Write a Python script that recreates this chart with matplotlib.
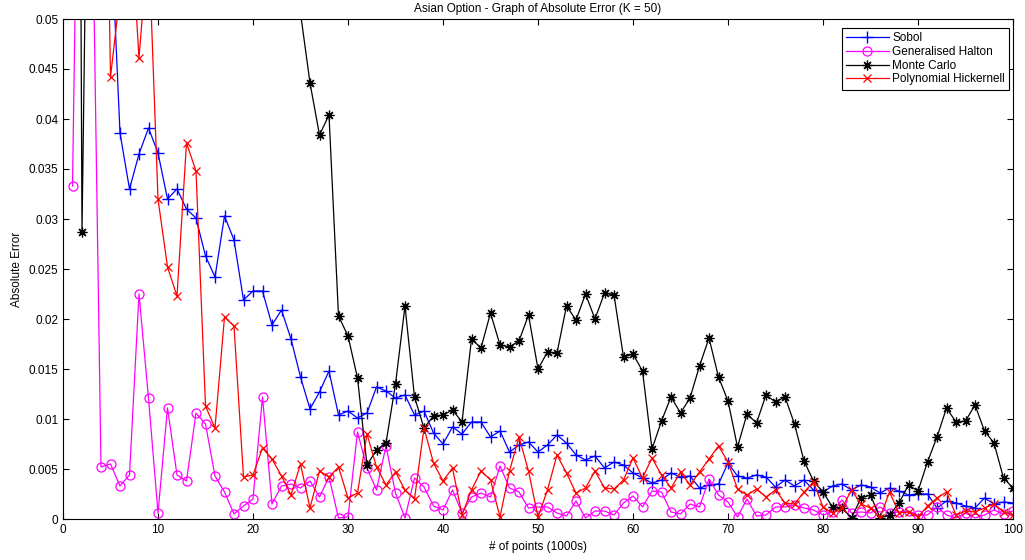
import matplotlib
matplotlib.use("Agg")
import matplotlib.pyplot as plt
from matplotlib.ticker import FormatStrFormatter, MultipleLocator

plt.rcParams['font.family'] = ['Liberation Sans', 'DejaVu Sans']
plt.rcParams['font.size'] = 8.5

n_points = list(range(1, 101))

# values above 0.05 run off the top of the axes
sobol = [0.14, 0.11, 0.09, 0.07, 0.060, 0.0386, 0.0330, 0.0365, 0.0391, 0.0366,
         0.0320, 0.0330, 0.0310, 0.0301, 0.0263, 0.0242, 0.0303, 0.0279, 0.0219, 0.0228,
         0.0228, 0.0194, 0.0209, 0.0180, 0.0142, 0.0110, 0.0127, 0.0148, 0.0104, 0.0108,
         0.0101, 0.0106, 0.0132, 0.0128, 0.0121, 0.0124, 0.0104, 0.0108, 0.0086, 0.0075,
         0.0092, 0.0085, 0.0097, 0.0097, 0.0082, 0.0088, 0.0067, 0.0074, 0.0077, 0.0067,
         0.0074, 0.0084, 0.0076, 0.0064, 0.0059, 0.0063, 0.0051, 0.0057, 0.0054, 0.0046,
         0.0041, 0.0036, 0.0039, 0.0046, 0.0042, 0.0043, 0.0031, 0.0034, 0.0035, 0.0056,
         0.0043, 0.0041, 0.0044, 0.0042, 0.0032, 0.0039, 0.0033, 0.0039, 0.0029, 0.0027,
         0.0033, 0.0035, 0.0029, 0.0034, 0.0032, 0.0026, 0.0031, 0.0028, 0.0024, 0.0025,
         0.0025, 0.0011, 0.0018, 0.0016, 0.0013, 0.0011, 0.0021, 0.0015, 0.0017, 0.0016]

halton = [0.0333, 0.098, 0.068, 0.0052, 0.0055, 0.0033, 0.0044, 0.0225, 0.0121, 0.0006,
          0.0111, 0.0044, 0.0038, 0.0106, 0.0095, 0.0043, 0.0027, 0.0005, 0.0013, 0.0020,
          0.0122, 0.0015, 0.0033, 0.0035, 0.0031, 0.0038, 0.0022, 0.0042, 0.0001, 0.0002,
          0.0087, 0.0051, 0.0029, 0.0073, 0.0026, 0.0001, 0.0041, 0.0032, 0.0013, 0.0009,
          0.0029, 0.0006, 0.0022, 0.0026, 0.0022, 0.0053, 0.0031, 0.0027, 0.0011, 0.0012,
          0.0012, 0.0006, 0.0003, 0.0018, 0.0001, 0.0008, 0.0008, 0.0004, 0.0016, 0.0023,
          0.0012, 0.0028, 0.0027, 0.0007, 0.0005, 0.0015, 0.0012, 0.0040, 0.0024, 0.0017,
          0.0002, 0.0020, 0.0003, 0.0004, 0.0012, 0.0012, 0.0014, 0.0011, 0.0009, 0.0004,
          0.0007, 0.0019, 0.0006, 0.0007, 0.0006, 0.0012, 0.0006, 0.0007, 0.0008, 0.0004,
          0.0004, 0.0012, 0.0004, 0.0001, 0.0006, 0.0001, 0.0004, 0.0009, 0.0005, 0.0008]

monte_carlo = [0.24, 0.0287, 0.10, 0.12, 0.11, 0.10, 0.09, 0.095, 0.085, 0.08,
               0.085, 0.075, 0.08, 0.07, 0.075, 0.068, 0.07, 0.065, 0.067, 0.062,
               0.064, 0.06, 0.058, 0.055, 0.0506, 0.0436, 0.0384, 0.0404, 0.0203, 0.0183,
               0.0141, 0.0054, 0.0069, 0.0076, 0.0135, 0.0213, 0.0122, 0.0091, 0.0103, 0.0104,
               0.0109, 0.0097, 0.0180, 0.0171, 0.0206, 0.0174, 0.0172, 0.0178, 0.0204, 0.0150,
               0.0167, 0.0166, 0.0213, 0.0199, 0.0225, 0.0200, 0.0226, 0.0224, 0.0162, 0.0165,
               0.0148, 0.0070, 0.0098, 0.0122, 0.0106, 0.0121, 0.0153, 0.0181, 0.0142, 0.0118,
               0.0072, 0.0105, 0.0096, 0.0124, 0.0117, 0.0122, 0.0095, 0.0058, 0.0038, 0.0027,
               0.0012, 0.0011, 0.0001, 0.0021, 0.0024, 0.0001, 0.0004, 0.0016, 0.0034, 0.0028,
               0.0057, 0.0082, 0.0111, 0.0097, 0.0098, 0.0114, 0.0088, 0.0076, 0.0041, 0.0031]

hickernell = [0.16, 0.13, 0.115, 0.10, 0.0442, 0.0525, 0.0617, 0.0461, 0.058, 0.0320,
              0.0252, 0.0223, 0.0376, 0.0348, 0.0113, 0.0091, 0.0202, 0.0193, 0.0042, 0.0044,
              0.0071, 0.0060, 0.0043, 0.0024, 0.0055, 0.0011, 0.0048, 0.0042, 0.0052, 0.0021,
              0.0026, 0.0085, 0.0052, 0.0034, 0.0047, 0.0029, 0.0020, 0.0091, 0.0056, 0.0038,
              0.0051, 0.0004, 0.0029, 0.0048, 0.0039, 0.0002, 0.0048, 0.0082, 0.0048, 0.0002,
              0.0029, 0.0064, 0.0046, 0.0026, 0.0031, 0.0048, 0.0031, 0.0030, 0.0039, 0.0061,
              0.0041, 0.0061, 0.0044, 0.0031, 0.0047, 0.0034, 0.0047, 0.0060, 0.0073, 0.0057,
              0.0030, 0.0024, 0.0030, 0.0022, 0.0029, 0.0016, 0.0015, 0.0027, 0.0037, 0.0012,
              0.0006, 0.0011, 0.0029, 0.0015, 0.0011, 0.0001, 0.0027, 0.0006, 0.0007, 0.0002,
              0.0013, 0.0021, 0.0027, 0.0004, 0.0008, 0.0007, 0.0011, 0.0015, 0.0007, 0.0004]

fig = plt.figure(figsize=(10.25, 5.6), dpi=100)
ax = fig.add_axes([63 / 1025, 41 / 560, 950 / 1025, 500 / 560])

lw = 0.9
ax.plot(n_points, sobol, '-', color='#0000ff', marker='+', ms=8, mew=1.0, lw=lw, label='Sobol')
ax.plot(n_points, halton, '-', color='#ff00ff', marker='o', ms=6.5, mfc='none', mew=0.9, lw=lw,
        label='Generalised Halton')
# matlab style asterisk (thin spokes)
ax.plot(n_points, monte_carlo, '-', color='black', marker=(8, 2, 0), ms=7, mew=0.9, lw=lw,
        label='Monte Carlo')
ax.plot(n_points, hickernell, '-', color='#ff0000', marker='x', ms=6, mew=0.9, lw=lw,
        label='Polynomial Hickernell')

ax.set_xlim(0, 100)
ax.set_ylim(0, 0.05)
ax.xaxis.set_major_locator(MultipleLocator(10))
ax.yaxis.set_major_locator(MultipleLocator(0.005))
ax.yaxis.set_major_formatter(FormatStrFormatter('%g'))
ax.tick_params(direction='in', top=True, right=True, length=4, width=0.8, labelsize=8.5)
for s in ax.spines.values():
    s.set_linewidth(0.8)

ax.set_title('Asian Option - Graph of Absolute Error (K = 50)', fontsize=8.5, pad=5)
ax.set_xlabel('# of points (1000s)', fontsize=8.5)
ax.set_ylabel('Absolute Error', fontsize=8.5)

leg = ax.legend(loc='upper right', bbox_to_anchor=(0.9958, 0.982), borderaxespad=0,
                fancybox=False, framealpha=1, edgecolor='black', fontsize=8.5,
                handlelength=3.6, handletextpad=0.3, labelspacing=0.15, borderpad=0.35)
leg.get_frame().set_linewidth(0.8)

fig.savefig('out.png', dpi=100)
